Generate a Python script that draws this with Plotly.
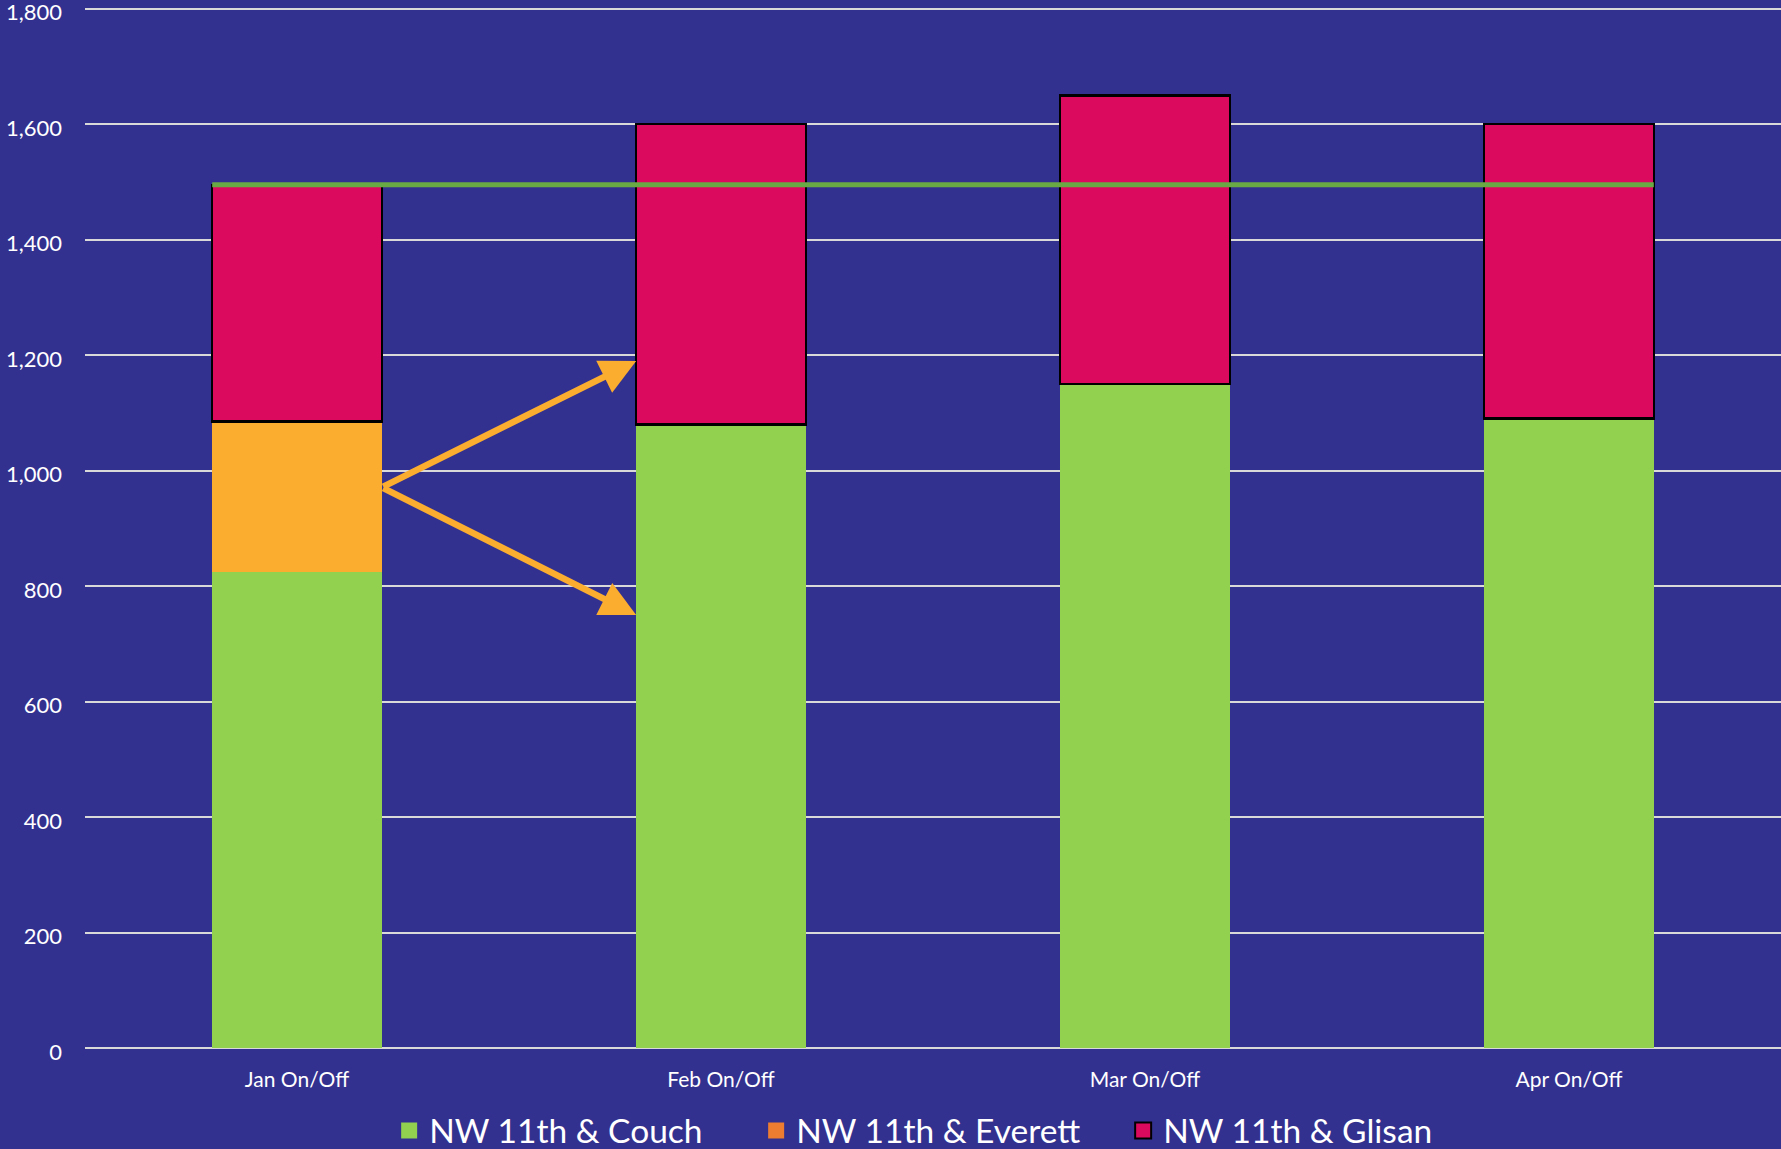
import plotly.graph_objects as go

categories = ["Jan On/Off", "Feb On/Off", "Mar On/Off", "Apr On/Off"]
couch = [825, 1080, 1150, 1090]
everett = [260, None, None, None]
glisan = [410, 520, 500, 510]
target = 1495
series_names = ["NW 11th & Couch", "NW 11th & Everett", "NW 11th & Glisan"]

# annotation arrow anchor values (y in data units)
arrow_tail_y = 971
arrow_tips_y = [1190, 750]

BG = "#33318F"
GREEN = "#92D050"
YELLOW = "#FBAD30"
ORANGE = "#ED7D31"
PINK = "#DC0A5F"
LINE_GREEN = "#6AAA45"
FONT = "Lato"
bar_w = 0.4

fig = go.Figure()
fig.add_trace(go.Bar(x=categories, y=couch, name=series_names[0], marker=dict(color=GREEN, line=dict(width=0)),
                     width=bar_w, showlegend=False))
fig.add_trace(go.Bar(x=categories, y=everett, name=series_names[1], marker=dict(color=YELLOW, line=dict(width=0)),
                     width=bar_w, showlegend=False))
fig.add_trace(go.Bar(x=categories, y=glisan, name=series_names[2], marker=dict(color=PINK, line=dict(color="black", width=2.5)),
                     width=bar_w, showlegend=False))

# legend entries
for name, col, lw in zip(series_names, [GREEN, ORANGE, PINK], [0, 0, 2]):
    fig.add_trace(go.Scatter(x=[None], y=[None], mode="markers", name=name,
                             marker=dict(symbol="square", size=22, color=col, line=dict(color="black", width=lw))))

# target line across bars
fig.add_shape(type="line", xref="x", yref="y", x0=-bar_w / 2, x1=len(categories) - 1 + bar_w / 2,
              y0=target, y1=target, line=dict(color=LINE_GREEN, width=5), layer="above")

for tip in arrow_tips_y:
    fig.add_annotation(x=1 - bar_w / 2, y=tip, ax=bar_w / 2, ay=arrow_tail_y, xref="x", yref="y",
                       axref="x", ayref="y", text="", showarrow=True, arrowhead=2, arrowsize=1.1,
                       arrowwidth=6.5, arrowcolor=YELLOW, standoff=0, startstandoff=0)

fig.update_layout(
    width=1781, height=1149,
    barmode="stack",
    paper_bgcolor=BG, plot_bgcolor=BG,
    margin=dict(l=85, r=0, t=7, b=101, autoexpand=False),
    font=dict(family=FONT, color="white", size=22),
    legend=dict(orientation="h", xref="container", yref="container", x=0.2185, y=0.016,
                xanchor="left", yanchor="middle", font=dict(size=33.5, color="white"),
                traceorder="normal",
                bgcolor="rgba(0,0,0,0)", entrywidth=322, entrywidthmode="pixels", itemsizing="trace"),
    xaxis=dict(type="category", range=[-0.5, 3.5], showgrid=False, showline=False, zeroline=False,
               ticks="", tickfont=dict(size=21, color="white"), ticklabelstandoff=17, automargin=False),
    yaxis=dict(range=[0, 1803], tickvals=list(range(0, 1801, 200)), tickformat=",d",
               showgrid=True, gridcolor="#D9D9D9", gridwidth=2, zeroline=True, zerolinecolor="#D9D9D9",
               zerolinewidth=2, showline=False, ticks="", tickfont=dict(size=22, color="white"),
               ticklabelstandoff=22, ticklabelshift=4, ticklabeloverflow="allow", automargin=False),
)

fig.write_html("out.html")
